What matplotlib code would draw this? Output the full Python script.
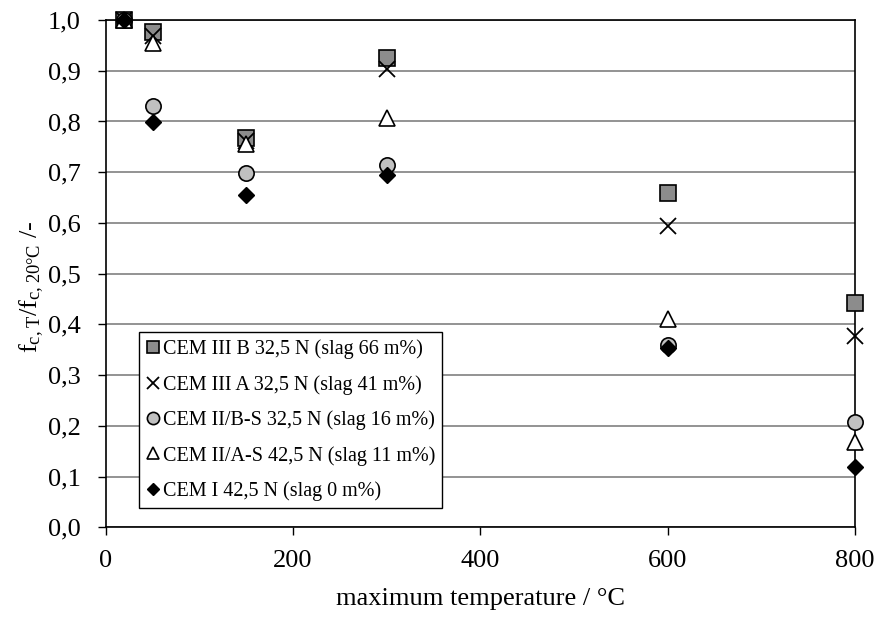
import matplotlib
matplotlib.use("Agg")
from matplotlib import pyplot as plt
from matplotlib.ticker import FuncFormatter

# Data
temps = [20, 50, 150, 300, 600, 800]

cem3b = [1.0, 0.977, 0.768, 0.925, 0.659, 0.443]
cem3a = [1.0, 0.969, 0.762, 0.903, 0.593, 0.377]
cem2b = [1.0, 0.831, 0.699, 0.714, 0.359, 0.208]
cem2a = [1.0, 0.955, 0.755, 0.807, 0.411, 0.168]
cem1 = [1.0, 0.799, 0.656, 0.694, 0.354, 0.119]

labels = ["CEM III B 32,5 N (slag 66 m%)",
          "CEM III A 32,5 N (slag 41 m%)",
          "CEM II/B-S 32,5 N (slag 16 m%)",
          "CEM II/A-S 42,5 N (slag 11 m%)",
          "CEM I 42,5 N (slag 0 m%)"]

plt.rcParams['font.family'] = ['Liberation Serif', 'DejaVu Serif']
plt.rcParams['mathtext.fontset'] = 'custom'
plt.rcParams['mathtext.rm'] = 'Liberation Serif'

fig = plt.figure(figsize=(8.79, 6.23), dpi=100)
ax = fig.add_axes([0.1203, 0.1536, 0.8524, 0.8143])

ax.plot(temps, cem3b, 's', ms=11, mfc='#8c8c8c', mec='black', mew=1.2, label=labels[0], zorder=3, clip_on=False)
ax.plot(temps, cem3a, 'x', ms=11, color='black', mew=1.3, label=labels[1], zorder=3, clip_on=False)
ax.plot(temps, cem2b, 'o', ms=11, mfc='#c0c0c0', mec='black', mew=1.2, label=labels[2], zorder=3, clip_on=False)
ax.plot(temps, cem2a, '^', ms=11, mfc='white', mec='black', mew=1.2, label=labels[3], zorder=3, clip_on=False)
ax.plot(temps, cem1, 'D', ms=8, color='black', label=labels[4], zorder=3, clip_on=False)

ax.set_xlim(0, 800)
ax.set_ylim(0, 1.0)
ax.set_xticks([0, 200, 400, 600, 800])
ax.set_yticks([i / 10 for i in range(11)])
ax.yaxis.set_major_formatter(FuncFormatter(lambda v, p: f"{v:.1f}".replace('.', ',')))
ax.tick_params(direction='out', length=6, width=1, labelsize=19)
ax.tick_params(axis='y', pad=12)
ax.tick_params(axis='x', pad=10)
ax.yaxis.grid(True, color='#808080', linewidth=1.2)
ax.set_axisbelow(True)
for s in ax.spines.values():
    s.set_linewidth(1.2)

ax.set_xlabel("maximum temperature / °C", fontsize=19, labelpad=12)
ax.set_ylabel(r"$\mathregular{f_{c,T}/f_{c,20°C}}$ /-", fontsize=19)
ax.yaxis.set_label_coords(-0.08, 0.475)

leg = ax.legend(loc='lower left', bbox_to_anchor=(0.044, 0.038), borderaxespad=0,
                fontsize=14.5, fancybox=False, framealpha=1, edgecolor='black',
                handlelength=0.75, handletextpad=0.1, borderpad=0.35, labelspacing=0.78,
                markerscale=0.8)
leg.get_frame().set_linewidth(1.0)

plt.savefig("out.png", dpi=100)
